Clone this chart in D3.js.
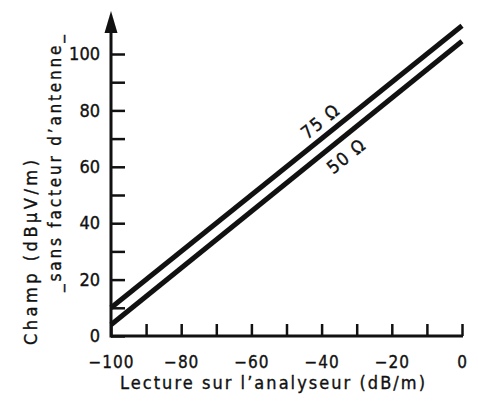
<!DOCTYPE html>
<html>
<head>
<meta charset="utf-8">
<script src="https://cdn.jsdelivr.net/npm/d3@7"></script>
<style>
  body { margin: 0; background: #fff; }
  svg { display: block; }
  text { font-family: "DejaVu Sans Condensed", "DejaVu Sans", sans-serif; fill: #111; stroke: #111; stroke-width: 0.35px; }
</style>
</head>
<body>
<div id="chart"></div>
<script>
(function() {
    // données
    const readings = [-100, 0];            // lecture analyseur (dB/m)
    const champ75 = [10, 110];             // 75 ohms
    const champ50 = [4, 104.5];            // 50 ohms
    const xTicks = d3.range(-100, 1, 10);
    const yTicks = d3.range(0, 101, 10);
    const xLabels = [-100, -80, -60, -40, -20, 0];
    const yLabels = [0, 20, 40, 60, 80, 100];

    const width = 478, height = 401;
    const svg = d3.select("#chart").append("svg")
        .attr("width", width).attr("height", height);

    const x = d3.scaleLinear().domain([-100, 0]).range([111, 462]);
    const y = d3.scaleLinear().domain([0, 100]).range([336, 54]);
    const fmt = d3.format("d");

    // axe X
    const gx = svg.append("g").attr("transform", `translate(0,${y(0)})`)
        .call(d3.axisBottom(x).tickValues(xTicks).tickSizeInner(-12).tickSizeOuter(0).tickPadding(20)
            .tickFormat(d => xLabels.includes(d) ? fmt(d) : ""));
    gx.select(".domain").remove();
    gx.selectAll(".tick line").attr("stroke", "#111").attr("stroke-width", 2.5);
    gx.selectAll(".tick text").attr("font-size", 17).attr("letter-spacing", 1)
        .attr("font-family", "'DejaVu Sans', sans-serif").attr("fill", "#111");

    // axe Y
    const gy = svg.append("g").attr("transform", `translate(${x(-100)},0)`)
        .call(d3.axisLeft(y).tickValues(yTicks).tickSizeInner(-14).tickSizeOuter(0).tickPadding(11)
            .tickFormat(d => yLabels.includes(d) ? fmt(d) : ""));
    gy.select(".domain").remove();
    gy.selectAll(".tick line").attr("stroke", "#111").attr("stroke-width", 2.5);
    gy.selectAll(".tick text").attr("font-size", 18)
        .attr("font-family", "'DejaVu Sans', sans-serif").attr("fill", "#111");

    // lignes d'axes + flèche
    svg.append("line").attr("x1", x(-100)).attr("x2", x(0) + 1)
        .attr("y1", y(0)).attr("y2", y(0)).attr("stroke", "#111").attr("stroke-width", 3);
    svg.append("line").attr("x1", x(-100)).attr("x2", x(-100))
        .attr("y1", y(0) + 1.5).attr("y2", 28).attr("stroke", "#111").attr("stroke-width", 3);
    const ax = x(-100);
    svg.append("path").attr("d", `M${ax},11 L${ax - 6.5},33 L${ax + 6.5},33 Z`).attr("fill", "#111");

    // droites
    const line = d3.line().x(d => x(d[0])).y(d => y(d[1]));
    [champ75, champ50].forEach(vals => {
        svg.append("path")
            .datum(readings.map((r, i) => [r, vals[i]]))
            .attr("d", line)
            .attr("fill", "none").attr("stroke", "#111").attr("stroke-width", 5);
    });

    // étiquettes des droites
    const angle = Math.atan2(y(champ50[1]) - y(champ50[0]), x(0) - x(-100)) * 180 / Math.PI;
    const at = (vals, xv) => [x(xv), y(vals[0] + (vals[1] - vals[0]) * (xv + 100) / 100)];
    const p75 = at(champ75, -40);
    svg.append("text").attr("transform", `translate(${p75[0]},${p75[1]}) rotate(${angle})`)
        .attr("x", 10).attr("y", -8).attr("text-anchor", "middle").attr("font-size", 18)
        .attr("letter-spacing", 1.5).text("75 Ω");
    const p50 = at(champ50, -33);
    svg.append("text").attr("transform", `translate(${p50[0]},${p50[1]}) rotate(${angle})`)
        .attr("x", -13).attr("y", 23).attr("text-anchor", "middle").attr("font-size", 18)
        .attr("letter-spacing", 1.5).text("50 Ω");

    // titres
    svg.append("text").attr("x", 120).attr("y", 389).attr("font-size", 18)
        .attr("textLength", 305).attr("lengthAdjust", "spacing")
        .text("Lecture sur l\u2019analyseur (dB/m)");
    svg.append("text").attr("transform", "translate(37,345) rotate(-90)").attr("font-size", 18)
        .attr("textLength", 185).attr("lengthAdjust", "spacing")
        .text("Champ (dB\u00b5V/m)");
    svg.append("text").attr("transform", "translate(61,292) rotate(-90)").attr("font-size", 17)
        .attr("textLength", 257).attr("lengthAdjust", "spacing")
        .text("_sans facteur d\u2019antenne_");
})();
</script>
</body>
</html>
